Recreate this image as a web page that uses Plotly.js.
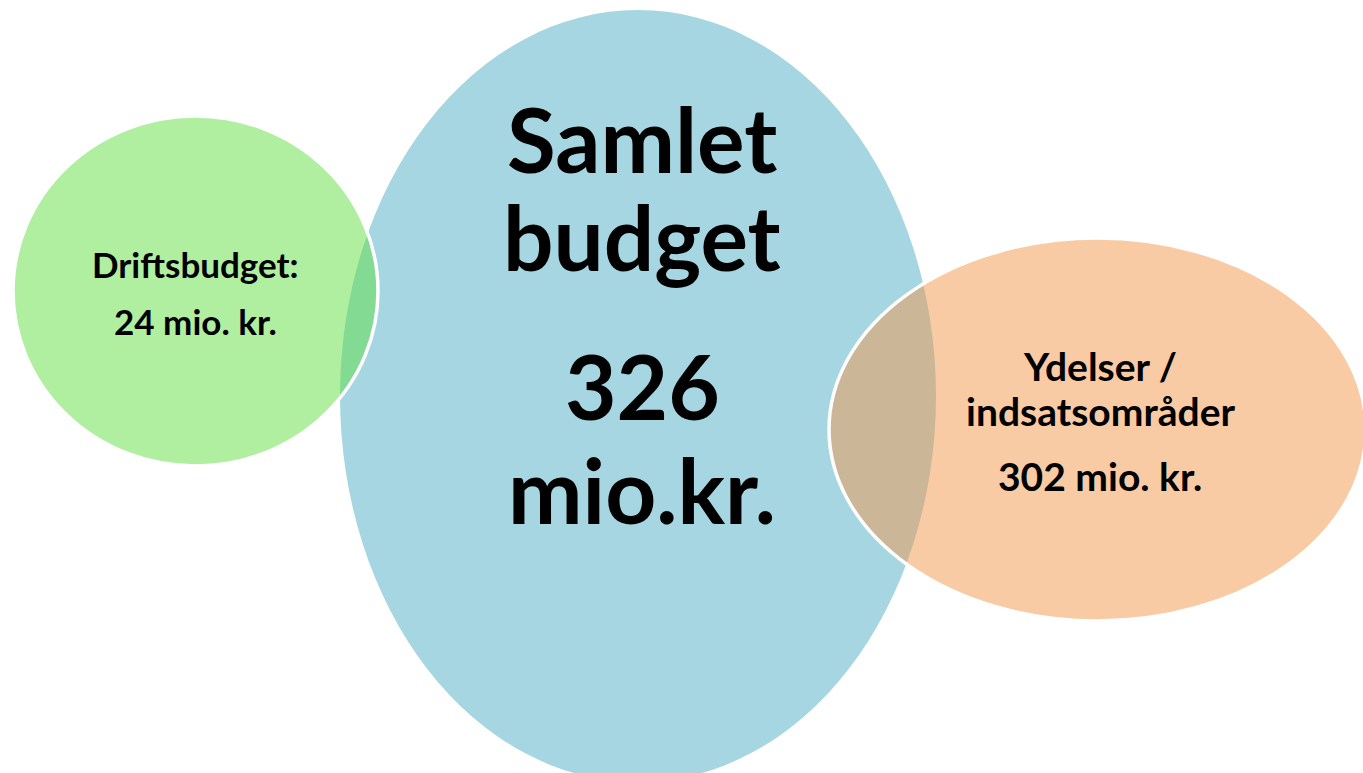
<!DOCTYPE html>
<html>
<head>
<meta charset="utf-8">
<script src="https://cdn.plot.ly/plotly-3.0.1.min.js"></script>
<style>html,body{margin:0;padding:0;background:#fff;}#chart{width:1363px;height:773px;}</style>
</head>
<body>
<div id="chart"></div>
<script>
// ---- data ----
var categories = ["Samlet budget", "Driftsbudget:", "Ydelser / indsatsområder"];
var values = [326, 24, 302];
var unitTotal = "mio.kr.";
var unitPart = "mio. kr.";

// ---- geometry (pixel-like coordinates, y down) ----
var ellipses = [
  {x0: 340, x1: 936, y0: 10, y1: 782, fill: "rgb(165,214,226)", line: "rgba(0,0,0,0)"},
  {x0: 13, x1: 378, y0: 116, y1: 466, fill: "rgba(97,222,65,0.5)", line: "#ffffff"},
  {x0: 829, x1: 1366, y0: 238, y1: 621, fill: "rgba(241,151,75,0.5)", line: "#ffffff"}
];

var shapes = ellipses.map(function (e) {
  return {type: "circle", xref: "x", yref: "y", x0: e.x0, x1: e.x1, y0: e.y0, y1: e.y1,
    fillcolor: e.fill, line: {color: e.line, width: 3.5}, layer: "above"};
});

var fontFam = "Lato, 'Open Sans', sans-serif";
function ann(text, x, y, size) {
  return {text: "<b>" + text + "</b>", x: x, y: y, xref: "x", yref: "y", showarrow: false,
    xanchor: "center", yanchor: "middle", font: {family: fontFam, size: size, color: "#000"}};
}
var parts0 = categories[0].split(" ");
var parts2 = categories[2].split(" / ");
var annotations = [
  ann(parts0[0], 642, 138, 89),
  ann(parts0[1], 642, 236, 89),
  ann(String(values[0]), 642, 385, 89),
  ann(unitTotal, 642, 489, 89),
  ann(categories[1], 195, 264, 35),
  ann(values[1] + " " + unitPart, 195, 321, 35),
  ann(parts2[0] + " /", 1100, 366, 39),
  ann(parts2[1], 1100, 411, 39),
  ann(values[2] + " " + unitPart, 1100, 476, 39)
];

var layout = {
  width: 1363, height: 773,
  margin: {l: 0, r: 0, t: 0, b: 0},
  paper_bgcolor: "#fff", plot_bgcolor: "#fff",
  xaxis: {range: [0, 1363], visible: false, fixedrange: true},
  yaxis: {range: [773, 0], visible: false, fixedrange: true},
  shapes: shapes,
  annotations: annotations,
  showlegend: false
};
Plotly.newPlot("chart", [{x: [], y: [], type: "scatter", hoverinfo: "skip"}], layout, {displayModeBar: false, staticPlot: true});
</script>
</body>
</html>
